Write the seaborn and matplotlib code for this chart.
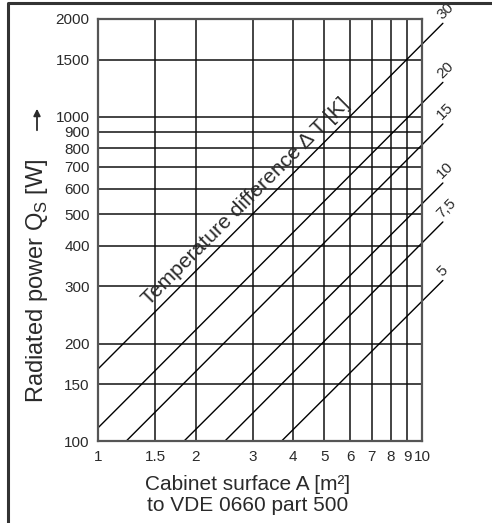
import numpy as np
import pandas as pd
import matplotlib
matplotlib.use("Agg")
import matplotlib.pyplot as plt
import seaborn as sns
from matplotlib.lines import Line2D
from matplotlib.patches import FancyArrowPatch

# ---- data ----
delta_t = [30, 20, 15, 10, 7.5, 5]
delta_t_labels = ["30", "20", "15", "10", "7,5", "5"]
start_area = [1.0, 1.0, 1.22, 1.84, 2.46, 3.68]
start_power = [167, 110, 100, 100, 100, 100]
end_area = [11.6, 11.6, 11.6, 11.6, 11.6, 11.6]
end_power = [1940, 1276, 950, 625, 474, 313]

x_ticks = [1, 1.5, 2, 3, 4, 5, 6, 7, 8, 9, 10]
x_tick_labels = ["1", "1.5", "2", "3", "4", "5", "6", "7", "8", "9", "10"]
y_ticks = [100, 150, 200, 300, 400, 500, 600, 700, 800, 900, 1000, 1500, 2000]
y_tick_labels = [str(v) for v in y_ticks]

rows = []
for dt, a0, q0, a1, q1 in zip(delta_t, start_area, start_power, end_area, end_power):
    rows.append({"A": a0, "Q": q0, "dT": dt})
    rows.append({"A": a1, "Q": q1, "dT": dt})
df = pd.DataFrame(rows)

sns.set_theme(style="white")
plt.rcParams["font.family"] = ["Liberation Sans", "DejaVu Sans"]
text_color = "#2a2a2a"

W, H = 492, 523
fig = plt.figure(figsize=(W / 100, H / 100), dpi=100)
ax = fig.add_axes([98 / W, 1 - 441.3 / H, (422 - 98) / W, (441.3 - 19) / H])

ax.set_xscale("log")
ax.set_yscale("log")
sns.lineplot(data=df, x="A", y="Q", units="dT", estimator=None, color="black",
             linewidth=1.0, ax=ax, legend=False)
for ln in ax.lines:
    ln.set_clip_on(False)

ax.set_xlim(1, 10)
ax.set_ylim(100, 2000)
ax.xaxis.set_minor_locator(matplotlib.ticker.NullLocator())
ax.yaxis.set_minor_locator(matplotlib.ticker.NullLocator())
ax.set_xticks(x_ticks)
ax.set_xticklabels(x_tick_labels)
ax.set_yticks(y_ticks)
ax.set_yticklabels(y_tick_labels)
ax.tick_params(axis="both", labelsize=11, colors=text_color, length=3, width=1.0,
               direction="out", pad=3)
ax.tick_params(axis="both", color="#333333")
ax.grid(True, which="major", color="#111111", linewidth=1.1)
for s in ax.spines.values():
    s.set_color("#555555")
    s.set_linewidth(1.6)
ax.set_xlabel("")
ax.set_ylabel("")

# line labels
for lab, a1, q1 in zip(delta_t_labels, end_area, end_power):
    ax.text(a1 * 1.01, q1 * 1.01, lab, rotation=45, rotation_mode="anchor",
            ha="left", va="bottom", fontsize=11, color=text_color, clip_on=False)

# diagonal annotation, sitting just above the 30 K line
a_mid = 3.0
ax.text(a_mid, start_power[0] * a_mid / start_area[0] * 1.04,
        "Temperature difference \u0394 T [K]",
        rotation=45, rotation_mode="anchor", ha="center", va="bottom",
        fontsize=15.2, color=text_color)

# y label with separate arrow
fig.text(37 / W, 1 - 281 / H, "Radiated power Q$_\\mathregular{S}$ [W]",
         rotation=90, ha="center", va="center", fontsize=17, color=text_color)
fig.add_artist(FancyArrowPatch((37 / W, 1 - 133 / H), (37 / W, 1 - 106 / H),
                               transform=fig.transFigure, arrowstyle="-|>",
                               mutation_scale=10, color=text_color, linewidth=1.3))

# x label
fig.text(248 / W, 1 - 484 / H, "Cabinet surface A [m\u00b2]",
         ha="center", va="center", fontsize=15, color=text_color)
fig.text(248 / W, 1 - 505.5 / H, "to VDE 0660 part 500",
         ha="center", va="center", fontsize=15, color=text_color)

# outer frame (partly cropped)
fig.add_artist(Line2D([7.5 / W, 7.5 / W, 1.0], [0.0, 1 - 3 / H, 1 - 3 / H],
                      transform=fig.transFigure, color="#333333", linewidth=2.2))

fig.savefig("out.png", dpi=100)
